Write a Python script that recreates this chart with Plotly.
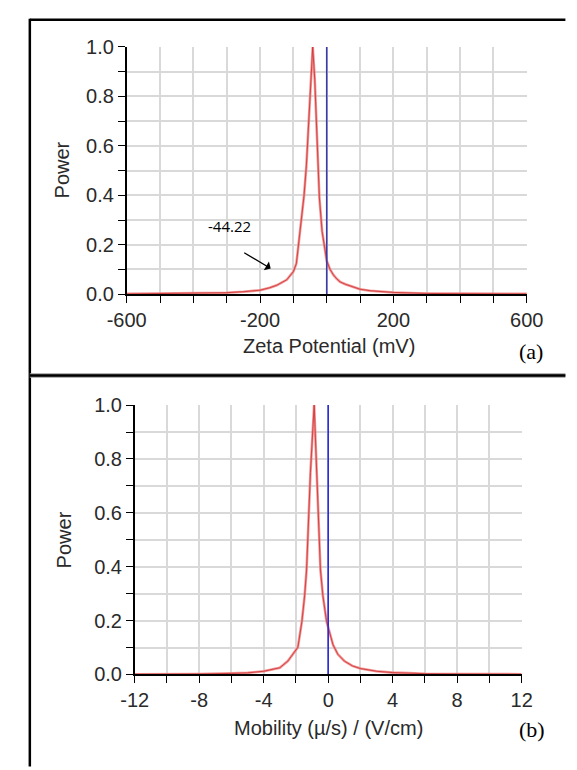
import plotly.graph_objects as go

# ---------------- data ----------------
# Panel (a): zeta potential distribution
zeta_mV = [-600, -500, -400, -300, -250, -200, -171, -150, -120, -100, -91, -80, -68, -61,
           -50, -42, -36, -26, -22, -14, -3, 0, 10, 20, 30, 40, 56, 80, 100, 130, 160,
           200, 250, 300, 400, 500, 600]
zeta_power = [0.001, 0.002, 0.003, 0.006, 0.010, 0.016, 0.026, 0.036, 0.058, 0.091, 0.124,
              0.255, 0.40, 0.52, 0.80, 1.0, 0.87, 0.52, 0.39, 0.255, 0.15, 0.135, 0.10,
              0.078, 0.062, 0.050, 0.040, 0.028, 0.020, 0.014, 0.010, 0.007, 0.005, 0.003,
              0.002, 0.001, 0.001]

# Panel (b): mobility distribution
mobility = [-12, -10, -8, -6, -5, -4, -3, -2.5, -1.88, -1.63, -1.46, -1.34, -1.26, -1.1,
            -0.87, -0.7, -0.56, -0.48, -0.33, -0.1, 0, 0.3, 0.6, 1, 1.5, 2, 3, 4, 5, 6,
            8, 10, 12]
mobility_power = [0.001, 0.001, 0.002, 0.004, 0.006, 0.012, 0.025, 0.05, 0.101, 0.197,
                  0.293, 0.389, 0.534, 0.75, 1.0, 0.75, 0.534, 0.389, 0.293, 0.197, 0.175,
                  0.11, 0.075, 0.05, 0.032, 0.022, 0.012, 0.007, 0.005, 0.003, 0.002,
                  0.001, 0.001]

# zero reference lines
zero_x = [0, 0]
zero_y = [0, 1]

# ticks
zeta_ticks = list(range(-600, 601, 100))
zeta_labels = ["-600", "", "", "", "-200", "", "", "", "200", "", "", "", "600"]
mob_ticks = list(range(-12, 13, 2))
mob_labels = ["-12", "", "-8", "", "-4", "", "0", "", "4", "", "8", "", "12"]
power_ticks = [round(i * 0.1, 1) for i in range(11)]
power_labels = ["0.0", "", "0.2", "", "0.4", "", "0.6", "", "0.8", "", "1.0"]

# annotation
peak_label = "-44.22"

W, H = 577, 770
def px(x):
    return x / W
def py(y):
    return 1 - y / H

fig = go.Figure()

LINE_OUT = "rgba(242,130,130,0.85)"
LINE_IN = "#c83030"

for xs, ys, xa, ya in [(zeta_mV, zeta_power, "x", "y"), (mobility, mobility_power, "x2", "y2")]:
    fig.add_trace(go.Scatter(x=xs, y=ys, mode="lines", xaxis=xa, yaxis=ya,
                             line=dict(color=LINE_OUT, width=2.6), hoverinfo="skip",
                             showlegend=False))
    fig.add_trace(go.Scatter(x=xs, y=ys, mode="lines", xaxis=xa, yaxis=ya,
                             line=dict(color=LINE_IN, width=0.8), showlegend=False))

fig.add_trace(go.Scatter(x=zero_x, y=zero_y, mode="lines", xaxis="x", yaxis="y",
                         line=dict(color="#3a3aa8", width=1.6), showlegend=False))
fig.add_trace(go.Scatter(x=zero_x, y=zero_y, mode="lines", xaxis="x2", yaxis="y2",
                         line=dict(color="#2a2ad8", width=1.6), showlegend=False))

TICKFONT = dict(family="Liberation Sans, Arial", size=20, color="#2a2a2a")
common_axis = dict(showgrid=True, gridcolor="#d9d9d9", gridwidth=1.6,
                   showline=True, linecolor="black", linewidth=1.6,
                   ticks="outside", ticklen=7, tickwidth=1.4, tickcolor="black",
                   tickfont=TICKFONT, zeroline=False, tickmode="array")

fig.update_layout(
    width=W, height=H, margin=dict(l=0, r=0, t=0, b=0),
    paper_bgcolor="white", plot_bgcolor="white", showlegend=False,
    xaxis=dict(domain=[px(114), px(541.5)], range=[-600, 600], anchor="y",
               tickvals=zeta_ticks, ticktext=zeta_labels, **common_axis),
    yaxis=dict(domain=[py(291.5), py(37)], range=[0, 1], anchor="x",
               tickvals=power_ticks, ticktext=power_labels, **common_axis),
    xaxis2=dict(domain=[px(122.6), px(536)], range=[-12, 12], anchor="y2",
                tickvals=mob_ticks, ticktext=mob_labels, **common_axis),
    yaxis2=dict(domain=[py(683), py(405.7)], range=[0, 1], anchor="x2",
                tickvals=power_ticks, ticktext=power_labels, **common_axis),
)

TITLEFONT = dict(family="Liberation Sans, Arial", size=20, color="#2a2a2a")
C = dict(xanchor="center", yanchor="middle", showarrow=False)
ann = [
    dict(text="Zeta Potential (mV)", x=px(330), y=py(345), xref="paper", yref="paper",
         font=TITLEFONT, **C),
    dict(text="Power", x=px(45), y=py(164), xref="paper", yref="paper", textangle=-90,
         font=TITLEFONT, **C),
    dict(text="Mobility (µ/s) / (V/cm)", x=px(330), y=py(738), xref="paper", yref="paper",
         font=TITLEFONT, **C),
    dict(text="Power", x=px(48), y=py(544), xref="paper", yref="paper", textangle=-90,
         font=TITLEFONT, **C),
    dict(text="(a)", x=px(546), y=py(350), xref="paper", yref="paper",
         font=dict(family="Liberation Serif, Times New Roman", size=22, color="black"), **C),
    dict(text="(b)", x=px(547), y=py(740), xref="paper", yref="paper",
         font=dict(family="Liberation Serif, Times New Roman", size=22, color="black"), **C),
    dict(text=peak_label, x=-291, y=0.275, xref="x", yref="y",
         font=dict(family="Open Sans", size=15, color="black"), **C),
    dict(text="", x=-168, y=0.104, xref="x", yref="y", ax=-252, ay=0.171,
         axref="x", ayref="y", showarrow=True, arrowhead=1, arrowsize=1.3,
         arrowwidth=1.3, arrowcolor="black"),
]
fig.update_layout(annotations=ann)

# panel frames
shapes = [
    dict(type="line", xref="paper", yref="paper", x0=px(10.5), x1=1.01, y0=py(9), y1=py(9),
         line=dict(color="black", width=2.5)),
    dict(type="line", xref="paper", yref="paper", x0=px(10.5), x1=px(10.5), y0=py(8), y1=-0.01,
         line=dict(color="black", width=2.5)),
    dict(type="line", xref="paper", yref="paper", x0=px(10.5), x1=1.01, y0=py(375.3), y1=py(375.3),
         line=dict(color="#9a9a9a", width=4.5)),
    dict(type="line", xref="paper", yref="paper", x0=px(10.5), x1=1.01, y0=py(375.3), y1=py(375.3),
         line=dict(color="black", width=2.5)),
]
fig.update_layout(shapes=shapes)

fig.write_html("out.html")
